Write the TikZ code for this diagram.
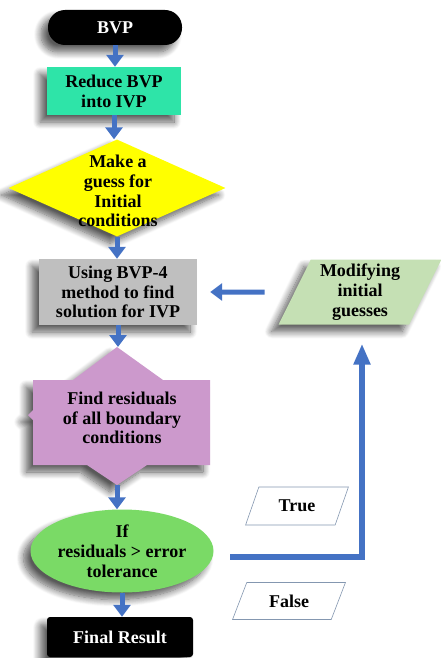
\documentclass[tikz,border=0pt]{standalone}
\usepackage{fontspec}
\setmainfont{Liberation Serif}
\usetikzlibrary{arrows.meta,shapes.geometric,shadows.blur}

\definecolor{flowblue}{RGB}{68,114,196}
\definecolor{reducegreen}{RGB}{46,228,168}
\definecolor{guessyellow}{RGB}{255,255,0}
\definecolor{solvegray}{RGB}{191,191,191}
\definecolor{residpink}{RGB}{204,153,204}
\definecolor{testgreen}{RGB}{122,218,102}
\definecolor{modgreen}{RGB}{197,224,180}
\definecolor{tagline}{RGB}{132,151,176}

\begin{document}
\begin{tikzpicture}[
  x=1pt, y=-1pt,
  font=\fontsize{18}{19.8}\selectfont\bfseries,
  shade/.style={blur shadow={shadow xshift=-7pt, shadow yshift=-7pt,
                shadow blur radius=7pt, shadow blur steps=10, shadow opacity=65}},
  box/.style={rectangle, align=center, inner sep=0pt, shade},
  term/.style={box, fill=black, text=white},
  slant/.style={trapezium, trapezium stretches=true, align=center, inner sep=0pt},
  choice/.style={slant, trapezium left angle=62, trapezium right angle=118,
                 draw=tagline, fill=white, line width=0.6pt},
  flow/.style={draw=flowblue, line width=5pt, -{Triangle[width=17pt,length=12pt]}},
  back/.style={draw=flowblue, line width=5.5pt, -{Triangle[width=16pt,length=21pt]}},
]
  \useasboundingbox (0,0) rectangle (441,658);

  % main column
  \node[term, rounded corners=17pt, minimum width=134pt, minimum height=35pt]
    (start) at (115,27.5) {BVP};
  \node[box, fill=reducegreen, minimum width=134pt, minimum height=48pt]
    (reduce) at (114,91) {Reduce BVP\\into IVP};
  \node[diamond, fill=guessyellow, shade, inner sep=0pt, minimum width=217pt,
        minimum height=97pt] (guess) at (117,188) {};
  \node[align=center] at (118,191) {Make a\\guess for\\Initial\\conditions};
  \node[box, fill=solvegray, minimum width=158pt, minimum height=66pt]
    (ivp) at (118,292) {Using BVP-4\\method to find\\solution for IVP};

  % residual shape
  \fill[residpink, shade] (117,347) -- (163,380) -- (210,380) -- (210,465)
    -- (147,465) -- (117,485) -- (87,465) -- (33,465) -- (33,420) -- (28,415)
    -- (33,410) -- (33,380) -- (73,380) -- cycle;
  \node[align=center] (resid) at (122,418) {Find residuals\\of all boundary\\conditions};
  \coordinate (residtop) at (117,347);
  \coordinate (residbot) at (117,485);

  \node[ellipse, fill=testgreen, shade, align=center, inner sep=0pt,
        minimum width=183pt, minimum height=83pt] (test) at (122,551)
    {If\\residuals > error\\tolerance};
  \node[term, rounded corners=3pt, minimum width=146pt, minimum height=40pt]
    (final) at (120,637) {Final Result};

  % right side
  \node[slant, trapezium left angle=65, trapezium right angle=115, fill=modgreen,
        shade, minimum width=163pt, minimum height=65pt] (modify) at (360,292)
    {Modifying\\initial\\guesses};
  \node[choice, minimum width=103pt, minimum height=38pt] (yes) at (297,506) {True};
  \node[choice, minimum width=113pt, minimum height=37pt] (no) at (289,601) {False};

  % arrows
  \draw[flow] (start.south) -- (start.south |- reduce.north);
  \draw[flow] (reduce.south) -- (reduce.south |- guess.north);
  \draw[flow] (guess.south) -- (guess.south |- ivp.north);
  \draw[flow] (ivp.south) -- (ivp.south |- residtop);
  \draw[flow] (residbot) -- (residbot |- test.north);
  \draw[flow] (test.south) -- (test.south |- final.north);
  \draw[flow] ([xshift=-30pt]modify.west) -- ([xshift=13pt]ivp.east);

  % loop back
  \coordinate (loopstart) at (230,557);
  \coordinate (loopturn) at (362,557);
  \draw[back, shorten >=19pt] (loopstart) -- (loopturn) -- (loopturn |- modify.south);
\end{tikzpicture}
\end{document}
